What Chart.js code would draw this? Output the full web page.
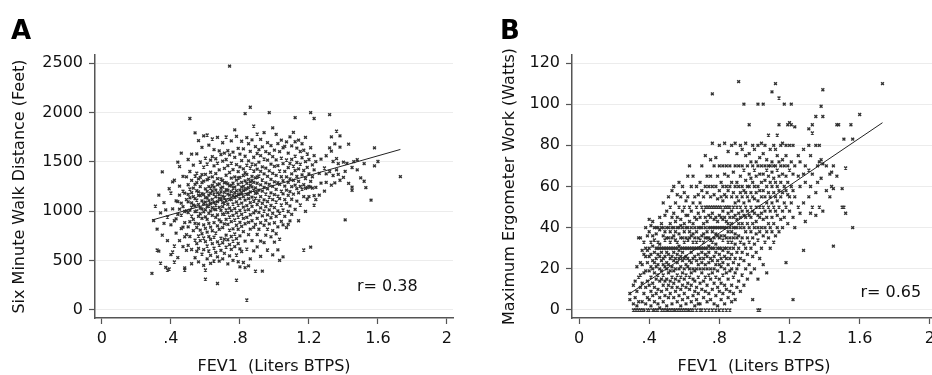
<!DOCTYPE html>
<html>
<head>
<meta charset="utf-8">
<script src="https://cdn.jsdelivr.net/npm/chart.js@4/dist/chart.umd.min.js"></script>
<style>
  html, body { margin: 0; padding: 0; background: #fff; overflow: hidden; }
  #wrap { position: relative; width: 932px; height: 375px; }
  .panel { position: absolute; top: 0; height: 375px; overflow: hidden; }
  .tag { position: absolute; top: 17px; font: bold 26px "DejaVu Sans", sans-serif; line-height: 1; color: #000; }
</style>
</head>
<body>
<div id="wrap">
  <div class="panel" style="left:0;width:466px"><canvas id="chartA" width="466" height="375"></canvas></div>
  <div class="panel" style="left:466px;width:466px"><canvas id="chartB" width="483" height="375"></canvas></div>
  <div class="tag" style="left:11px">A</div>
  <div class="tag" style="left:500px">B</div>
</div>
<script>
// shared axis ticks
const xTicks = [0, 0.4, 0.8, 1.2, 1.6, 2];
const xTickLabels = ["0", ".4", ".8", "1.2", "1.6", "2"];
const yTicksA = [0, 500, 1000, 1500, 2000, 2500];
const yTicksB = [0, 20, 40, 60, 80, 100, 120];

// panel A: FEV1 columns and the walk distances read at each one
const fevA = [
  0.29, 0.30, 0.31, 0.32, 0.33, 0.34, 0.35, 0.36, 0.37, 0.38,
  0.39, 0.40, 0.41, 0.42, 0.43, 0.44, 0.45, 0.46, 0.47, 0.48, 0.49,
  0.50, 0.51, 0.52, 0.53, 0.54, 0.55, 0.56, 0.57, 0.58, 0.59,
  0.60, 0.61, 0.62, 0.63, 0.64, 0.65, 0.66, 0.67, 0.68, 0.69,
  0.70, 0.71, 0.72, 0.73, 0.74, 0.75, 0.76, 0.77, 0.78, 0.79,
  0.80, 0.81, 0.82, 0.83, 0.84, 0.85, 0.86, 0.87, 0.88, 0.89,
  0.90, 0.91, 0.92, 0.93, 0.94, 0.95, 0.96, 0.97, 0.98, 0.99,
  1.00, 1.01, 1.02, 1.03, 1.04, 1.05, 1.06, 1.07, 1.08, 1.09,
  1.10, 1.11, 1.12, 1.13, 1.14, 1.15, 1.16, 1.17, 1.18, 1.19,
  1.20, 1.21, 1.22, 1.23, 1.24,
  1.26, 1.27, 1.29, 1.30, 1.32, 1.33, 1.34, 1.35, 1.36, 1.37,
  1.38, 1.40, 1.41, 1.42, 1.43, 1.45, 1.46, 1.48, 1.50, 1.52,
  1.53, 1.56, 1.58, 1.60, 1.73
];
const walkA = [
  [370], [905], [1052], [818, 607], [1163, 596], [475, 983], [1398, 757], [877, 1086], [1013, 431], [702, 941, 405],
  [1227, 415], [1184, 862, 561], [587, 1024, 1296], [648, 1313, 486, 903], [922, 778, 1104], [1097, 531, 968, 1497],
  [1452, 1254, 702, 1021, 1163], [961, 1588, 823, 1081], [838, 1047, 642, 1204, 1352], [1183, 426, 884, 997, 404, 741],
  [1348, 1003, 762, 1118, 603],
  [1523, 1268, 1094, 1171, 987, 842, 655],
  [1938, 1402, 1225, 1136, 1011, 893, 744],
  [1577, 1312, 1188, 1085, 1042, 951, 612, 468],
  [1466, 1233, 1148, 1061, 917, 803],
  [1792, 1356, 1271, 1127, 1053, 996, 876, 708, 529],
  [1581, 1386, 1290, 1207, 1113, 1002, 835, 672, 593],
  [1714, 1327, 1196, 1160, 1068, 948, 871, 749, 624, 487],
  [1498, 1343, 1249, 1158, 1031, 974, 808, 703],
  [1646, 1371, 1289, 1177, 1104, 1023, 928, 772, 566],
  [1762, 1447, 1304, 1169, 1077, 994, 861, 729, 611, 452],
  [1538, 1372, 1226, 1138, 1092, 1015, 943, 827, 692, 405, 313],
  [1771, 1478, 1318, 1201, 1134, 1046, 918, 788, 648, 517],
  [1669, 1336, 1249, 1163, 1107, 1052, 979, 876, 743, 597],
  [1517, 1394, 1234, 1182, 1078, 1003, 839, 714, 553, 472],
  [1731, 1552, 1347, 1262, 1206, 1119, 1037, 957, 802, 671],
  [1624, 1459, 1296, 1243, 1174, 1088, 1021, 884, 738, 627, 496],
  [1531, 1381, 1213, 1146, 1062, 1017, 938, 779, 583],
  [1748, 1487, 1329, 1268, 1186, 1097, 963, 851, 689, 537, 268],
  [1611, 1418, 1277, 1168, 1129, 1038, 912, 817, 657, 494],
  [1574, 1326, 1232, 1197, 1121, 1009, 893, 728, 604],
  [1693, 1506, 1311, 1244, 1151, 1087, 1046, 969, 833, 681, 518],
  [1587, 1433, 1288, 1191, 1143, 1083, 972, 872, 716, 574],
  [1751, 1523, 1364, 1289, 1217, 1106, 1012, 917, 758, 637],
  [1612, 1462, 1277, 1212, 1173, 1070, 986, 866, 711, 466],
  [2468, 1571, 1392, 1256, 1163, 1118, 1031, 941, 809, 662, 548],
  [1712, 1487, 1335, 1262, 1198, 1117, 1005, 895, 744, 613],
  [1598, 1421, 1283, 1234, 1158, 1073, 958, 822, 698, 503],
  [1823, 1544, 1348, 1244, 1188, 1139, 1026, 911, 769, 641],
  [1757, 1471, 1314, 1207, 1152, 1094, 984, 858, 723, 557, 303],
  [1636, 1401, 1336, 1273, 1167, 1062, 941, 817, 673, 488],
  [1578, 1449, 1342, 1213, 1176, 1128, 1007, 887, 751, 618, 436],
  [1708, 1512, 1291, 1243, 1187, 1081, 968, 846, 592],
  [1631, 1428, 1361, 1252, 1208, 1147, 1041, 927, 794, 481],
  [1988, 1556, 1389, 1307, 1219, 1112, 1002, 873, 697, 428],
  [1744, 1467, 1373, 1281, 1228, 1171, 1057, 938, 617, 101],
  [1683, 1509, 1322, 1238, 1170, 1128, 1016, 887, 762, 447],
  [2052, 1606, 1437, 1296, 1261, 1196, 1086, 964, 818, 517],
  [1722, 1478, 1353, 1311, 1247, 1142, 1049, 903, 702],
  [1862, 1546, 1407, 1292, 1214, 1103, 983, 836, 598],
  [1653, 1469, 1338, 1236, 1182, 1133, 1004, 867, 394],
  [1781, 1584, 1426, 1346, 1283, 1187, 1068, 928, 764, 638],
  [1624, 1497, 1356, 1213, 1106, 988, 817],
  [1727, 1562, 1404, 1267, 1148, 1034, 883, 697, 542],
  [1651, 1448, 1316, 1203, 1079, 952, 393],
  [1796, 1528, 1377, 1241, 1114, 1002, 858, 682],
  [1603, 1436, 1287, 1174, 1046, 907, 757],
  [1694, 1517, 1352, 1226, 1098, 962, 819, 607],
  [1998, 1583, 1409, 1271, 1143, 1013, 872],
  [1663, 1476, 1322, 1186, 1058, 934, 741],
  [1843, 1552, 1383, 1252, 1117, 979, 803, 558],
  [1618, 1453, 1297, 1168, 1037, 883, 687],
  [1777, 1519, 1362, 1221, 1093, 948, 772],
  [1684, 1462, 1288, 1153, 1004, 842, 608],
  [1603, 1407, 1273, 1127, 981, 718, 503],
  [1719, 1538, 1349, 1204, 1063, 897],
  [1642, 1482, 1308, 1176, 1012, 862, 538],
  [1657, 1403, 1253, 1118, 947],
  [1701, 1518, 1347, 1213, 1079, 833],
  [1587, 1441, 1293, 1161, 997, 866],
  [1752, 1483, 1328, 1198, 1053, 902],
  [1662, 1524, 1377, 1248, 1121, 968],
  [1798, 1457, 1313, 1172],
  [1947, 1703, 1558, 1412, 1263, 1018],
  [1638, 1493, 1351, 1228, 1102],
  [1719, 1428, 1302, 1187, 903],
  [1604, 1477, 1252, 1063],
  [1683, 1541, 1368, 1224],
  [1617, 1412, 1268, 1148, 607],
  [1748, 1502, 1331, 1232, 998],
  [1579, 1443, 1238, 1121],
  [1523, 1378, 1252, 1148],
  [1998, 1642, 1302, 1243, 636],
  [1468, 1349, 1233],
  [1938, 1562, 1418, 1158, 1062],
  [1502, 1241, 1118],
  [1383, 1162], [1527, 1284], [1437, 1203], [1561, 1378, 1292], [1978, 1641, 1402],
  [1752, 1608, 1263], [1503, 1361], [1682, 1287], [1811, 1533, 1418], [1481, 1372],
  [1763, 1648, 1313], [1497, 1342], [912, 1403], [1484], [1678, 1281],
  [1442, 1212, 1243], [1502], [1521, 1418], [1338], [1303, 1482],
  [1238], [1112], [1641, 1458], [1503], [1350]
];
const fitA = [[0.29, 910], [1.73, 1625]];

// panel B: FEV1 columns and the ergometer watts read at each one
const fevB = [
  0.29, 0.31, 0.32, 0.33, 0.34, 0.35, 0.36, 0.37, 0.38, 0.39,
  0.40, 0.41, 0.42, 0.43, 0.44, 0.45, 0.46, 0.47, 0.48, 0.49,
  0.50, 0.51, 0.52, 0.53, 0.54, 0.55, 0.56, 0.57, 0.58, 0.59,
  0.60, 0.61, 0.62, 0.63, 0.64, 0.65, 0.66, 0.67, 0.68, 0.69,
  0.70, 0.71, 0.72, 0.73, 0.74, 0.75, 0.76, 0.77, 0.78, 0.79,
  0.80, 0.81, 0.82, 0.83, 0.84, 0.85, 0.86, 0.87, 0.88, 0.89,
  0.90, 0.91, 0.92, 0.93, 0.94, 0.95, 0.96, 0.97, 0.98, 0.99,
  1.00, 1.01, 1.02, 1.03, 1.04, 1.05, 1.06, 1.07, 1.08, 1.09,
  1.10, 1.11, 1.12, 1.13, 1.14, 1.15, 1.16, 1.17, 1.18, 1.19,
  1.20, 1.21, 1.22, 1.23,
  1.25, 1.26, 1.28, 1.29, 1.31, 1.32, 1.33, 1.35, 1.36, 1.37,
  1.38, 1.39, 1.41, 1.43, 1.44, 1.45, 1.47, 1.48, 1.50, 1.51,
  1.52, 1.55, 1.56, 1.60, 1.73
];
const wattsB = [
  [5, 8], [0, 3, 12], [0, 6, 14], [0, 2, 9, 21], [0, 35, 4, 16],
  [35, 0, 11, 23, 17], [0, 4, 13, 22, 29], [0, 8, 18, 27, 33], [3, 11, 19, 26, 30, 40], [0, 6, 14, 23, 29, 36],
  [0, 5, 12, 19, 26, 30, 38, 44],
  [2, 9, 16, 21, 27, 33, 41],
  [0, 7, 13, 20, 24, 31, 36, 43],
  [0, 4, 11, 18, 23, 28, 34, 40],
  [0, 8, 15, 21, 25, 30, 37, 40],
  [0, 3, 10, 17, 22, 27, 30, 33, 40],
  [1, 6, 14, 20, 26, 30, 32, 39, 45],
  [0, 9, 15, 19, 24, 28, 30, 40, 42],
  [0, 4, 12, 17, 22, 25, 30, 36, 40, 52],
  [0, 7, 14, 21, 26, 30, 34, 38, 46],
  [0, 2, 10, 15, 20, 23, 28, 30, 35, 40, 48],
  [0, 6, 12, 18, 22, 27, 30, 35, 40, 55],
  [0, 8, 14, 19, 25, 30, 33, 38, 42, 50],
  [0, 3, 11, 16, 21, 26, 30, 35, 40, 45, 58],
  [0, 6, 13, 19, 24, 28, 30, 36, 40, 47, 60],
  [0, 9, 15, 20, 25, 30, 34, 38, 43, 52],
  [0, 4, 11, 17, 23, 27, 30, 33, 40, 45, 56],
  [0, 7, 14, 20, 25, 29, 31, 37, 40, 50, 62],
  [0, 2, 10, 16, 21, 26, 30, 35, 41, 44, 55],
  [0, 5, 12, 18, 24, 28, 30, 35, 40, 48, 60],
  [0, 8, 15, 20, 25, 30, 33, 38, 42, 50, 57],
  [0, 3, 11, 17, 22, 26, 30, 35, 40, 46, 53],
  [0, 6, 13, 21, 25, 30, 34, 40, 46, 55, 65],
  [0, 10, 16, 20, 24, 30, 35, 38, 43, 50, 70],
  [0, 4, 12, 18, 23, 28, 30, 36, 40, 48, 60],
  [0, 7, 15, 20, 25, 30, 33, 37, 42, 52, 65],
  [2, 9, 14, 19, 26, 30, 35, 40, 45, 55],
  [0, 5, 11, 20, 24, 30, 33, 38, 44, 50, 60],
  [3, 8, 16, 22, 27, 30, 35, 40, 47, 56],
  [0, 3, 13, 20, 25, 30, 34, 40, 45, 52, 62],
  [0, 10, 18, 23, 28, 30, 36, 40, 50, 58, 70],
  [6, 14, 20, 25, 30, 33, 37, 42, 48, 55],
  [0, 9, 16, 22, 27, 30, 35, 40, 45, 50, 60, 75],
  [4, 12, 20, 26, 30, 35, 38, 43, 50, 57, 65],
  [0, 8, 17, 23, 28, 31, 35, 40, 46, 50, 60],
  [5, 15, 20, 25, 30, 34, 40, 45, 50, 55, 65, 73],
  [0, 10, 18, 24, 30, 33, 38, 40, 47, 50, 60, 81, 105],
  [3, 13, 20, 26, 30, 35, 40, 44, 50, 56, 70],
  [0, 7, 16, 22, 28, 32, 37, 40, 45, 50, 60, 74],
  [2, 11, 19, 24, 30, 36, 40, 43, 50, 54, 65],
  [0, 9, 15, 22, 27, 30, 35, 40, 46, 50, 58, 70, 80],
  [5, 13, 21, 25, 30, 36, 40, 45, 50, 55, 62],
  [0, 8, 17, 23, 29, 34, 40, 44, 48, 53, 60, 70],
  [3, 12, 20, 26, 30, 36, 40, 45, 50, 56, 66, 81],
  [0, 10, 18, 25, 30, 35, 40, 43, 50, 55, 60, 70],
  [6, 15, 22, 28, 33, 38, 42, 47, 50, 58, 65, 77],
  [0, 9, 19, 25, 30, 35, 40, 45, 50, 60, 70],
  [4, 12, 20, 27, 33, 38, 42, 48, 55, 62, 80],
  [8, 16, 23, 30, 35, 40, 45, 50, 57, 67],
  [5, 18, 25, 32, 37, 40, 46, 52, 60, 70, 81],
  [11, 20, 28, 35, 40, 44, 50, 55, 62, 76],
  [14, 22, 30, 36, 42, 47, 53, 60, 70, 111],
  [9, 25, 33, 40, 45, 50, 57, 65, 80],
  [17, 28, 35, 42, 48, 55, 60, 70, 78],
  [12, 24, 32, 40, 46, 52, 58, 68, 100],
  [20, 30, 38, 45, 50, 57, 63, 75, 81],
  [15, 27, 35, 42, 48, 55, 60, 70],
  [22, 33, 40, 46, 53, 60, 66, 76, 90],
  [18, 30, 38, 45, 50, 57, 64, 72],
  [5, 26, 35, 42, 48, 55, 62, 70, 80],
  [20, 32, 40, 47, 54, 60, 68, 78],
  [28, 37, 43, 50, 57, 65, 72],
  [0, 15, 34, 40, 46, 53, 60, 70, 80, 100],
  [0, 25, 38, 45, 50, 58, 66, 74],
  [30, 40, 47, 55, 62, 70, 81],
  [22, 36, 44, 50, 58, 66, 76, 100],
  [33, 40, 48, 55, 63, 70, 80],
  [18, 38, 45, 52, 60, 68, 73],
  [35, 42, 50, 57, 65, 70, 85],
  [30, 40, 48, 55, 62, 70, 78],
  [38, 45, 52, 60, 67, 72, 106],
  [33, 42, 50, 57, 64, 70, 80],
  [36, 48, 55, 62, 70, 78, 110],
  [40, 46, 53, 60, 68, 75, 85],
  [38, 50, 58, 65, 72, 103, 90],
  [44, 55, 62, 70, 80],
  [40, 48, 57, 66, 73, 81],
  [45, 52, 60, 70, 100],
  [23, 50, 58, 65, 75, 80],
  [42, 56, 62, 70, 90],
  [48, 55, 68, 80, 91],
  [52, 60, 72, 90, 100],
  [5, 45, 58, 66, 80],
  [40, 55, 70, 89],
  [50, 65, 75], [47, 60, 72], [29, 52, 66, 78], [43, 62, 70], [55, 68, 80, 88],
  [47, 60, 75], [50, 66, 86, 90], [46, 57, 80, 94], [62, 70], [50, 72, 80],
  [99, 73, 64], [107, 94, 48, 71], [58, 70], [55, 66], [67, 60],
  [31, 70, 59], [90, 65], [90], [59, 50], [50, 83],
  [47, 69], [90], [40, 83], [95], [110]
];
const fitB = [[0.29, 8], [1.73, 91]];

const tickFont = { family: "DejaVu Sans", size: 16 };
const titleFont = { family: "DejaVu Sans", size: 16, lineHeight: 1 };

const rLabel = {
  id: "rLabel",
  afterDatasetsDraw(chart, args, opts) {
    const { ctx, scales } = chart;
    ctx.save();
    ctx.font = '16px "DejaVu Sans"';
    ctx.fillStyle = "#111";
    ctx.textAlign = "right";
    ctx.textBaseline = "middle";
    ctx.fillText(opts.text, scales.x.getPixelForValue(opts.at[0]), scales.y.getPixelForValue(opts.at[1]));
    ctx.restore();
  }
};

function makeChart(id, cols, vals, fit, c) {
  const pts = [];
  cols.forEach((x, i) => vals[i].forEach(v => pts.push({ x: x, y: v })));
  return new Chart(document.getElementById(id), {
    type: "scatter",
    data: {
      datasets: [
        { type: "line", data: fit.map(p => ({ x: p[0], y: p[1] })), borderColor: "#222", borderWidth: 1,
          pointRadius: 0, fill: false, order: 0 },
        { data: pts, pointStyle: "crossRot", radius: 2, borderWidth: 1.4, borderColor: "#333",
          backgroundColor: "#333", order: 1 }
      ]
    },
    options: {
      responsive: false,
      animation: false,
      events: [],
      layout: { padding: { left: 0, right: 13, top: 55, bottom: 0 } },
      plugins: { legend: { display: false }, tooltip: { enabled: false }, rLabel: { text: c.r, at: c.rAt } },
      scales: {
        x: {
          type: "linear", min: -0.04, max: 2.035,
          afterBuildTicks: s => { s.ticks = xTicks.map(v => ({ value: v })); },
          afterFit: s => { s.height = 57; },
          ticks: { font: tickFont, color: "#111", padding: 5, maxRotation: 0, autoSkip: false,
                   callback: (v, i) => xTickLabels[i] },
          grid: { drawOnChartArea: false, tickLength: 6, tickColor: "#555", tickWidth: 1.2 },
          border: { color: "#555", width: 1.5 },
          title: { display: true, text: "FEV1  (Liters BTPS)", font: titleFont, color: "#111", padding: { top: 0, bottom: 0 } }
        },
        y: {
          min: c.yMin, max: c.yMax,
          afterBuildTicks: s => { s.ticks = c.yTicks.map(v => ({ value: v })); },
          afterFit: s => { s.width = c.yWidth; },
          ticks: { font: tickFont, color: "#111", padding: 6, callback: v => String(v) },
          grid: { color: "#ececec", lineWidth: 1, tickLength: 6, tickColor: "#555", tickWidth: 1.2 },
          border: { color: "#555", width: 1.5 },
          title: { display: true, text: c.yTitle, font: titleFont, color: "#111", padding: { top: c.titlePad, bottom: 0 } }
        }
      }
    },
    plugins: [rLabel]
  });
}

makeChart("chartA", fevA, walkA, fitA, {
  yMin: -81, yMax: 2581, yTicks: yTicksA, yWidth: 95, titlePad: 12,
  yTitle: "Six Minute Walk Distance (Feet)", r: "r= 0.38", rAt: [1.83, 233]
});
makeChart("chartB", fevB, wattsB, fitB, {
  yMin: -3.9, yMax: 123.9, yTicks: yTicksB, yWidth: 106, titlePad: 36,
  yTitle: "Maximum Ergometer Work (Watts)", r: "r= 0.65", rAt: [1.95, 8.3]
});
</script>
</body>
</html>
